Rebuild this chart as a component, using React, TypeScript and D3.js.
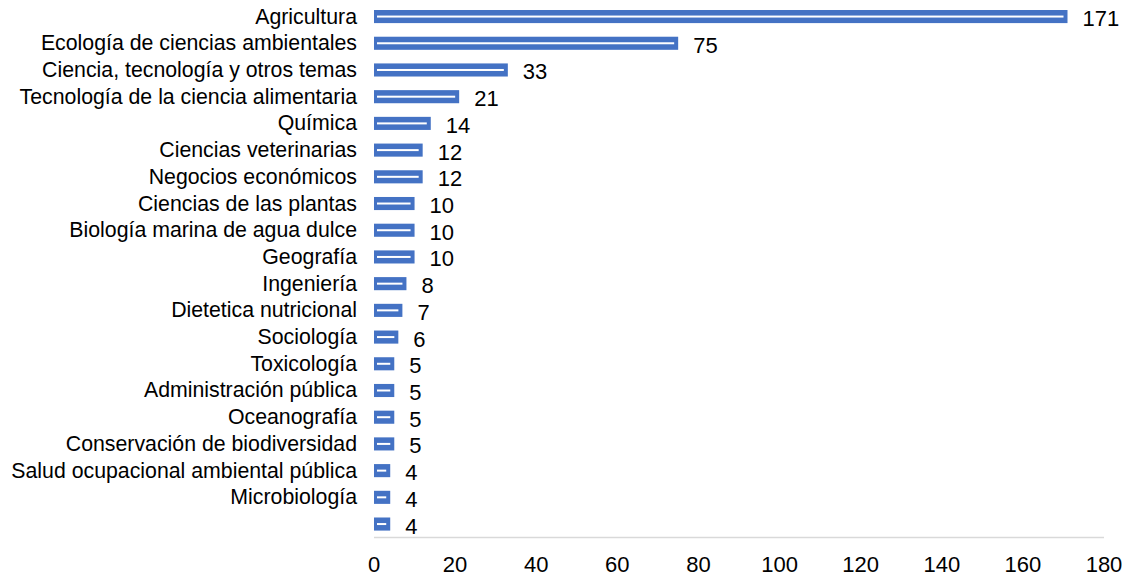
import React, { useEffect, useRef } from 'react';
import * as d3 from 'd3';

const categories = [
  'Agricultura',
  'Ecología de ciencias ambientales',
  'Ciencia, tecnología y otros temas',
  'Tecnología de la ciencia alimentaria',
  'Química',
  'Ciencias veterinarias',
  'Negocios económicos',
  'Ciencias de las plantas',
  'Biología marina de agua dulce',
  'Geografía',
  'Ingeniería',
  'Dietetica nutricional',
  'Sociología',
  'Toxicología',
  'Administración pública',
  'Oceanografía',
  'Conservación de biodiversidad',
  'Salud ocupacional ambiental pública',
  'Microbiología',
  '',
];
const values = [171, 75, 33, 21, 14, 12, 12, 10, 10, 10, 8, 7, 6, 5, 5, 5, 5, 4, 4, 4];
const xTicks = [0, 20, 40, 60, 80, 100, 120, 140, 160, 180];

export default function App() {
  const ref = useRef<SVGSVGElement>(null);

  useEffect(() => {
    const width = 1127;
    const height = 577;
    const svg = d3.select(ref.current);
    svg.selectAll('*').remove();
    svg.attr('width', width).attr('height', height);

    const font = 'Arial, "Liberation Sans", sans-serif';
    const x = d3.scaleLinear().domain([0, 180]).range([374, 1104]);
    const ids = categories.map((_, i) => String(i));
    const y = d3.scaleBand().domain(ids).range([3.2, 537.4]).paddingInner(0.51).paddingOuter(0.255);

    // axis line
    svg.append('line')
      .attr('x1', x(0)).attr('x2', x(180))
      .attr('y1', 537.5).attr('y2', 537.5)
      .attr('stroke', '#d9d9d9').attr('stroke-width', 1.5);

    const rows = svg.selectAll('g.row')
      .data(values)
      .enter()
      .append('g')
      .attr('class', 'row');

    rows.append('rect')
      .attr('x', x(0))
      .attr('y', (d, i) => y(String(i))!)
      .attr('width', d => x(d) - x(0))
      .attr('height', y.bandwidth())
      .attr('fill', '#4472c4');

    // white inner stripe
    rows.append('rect')
      .attr('x', x(0) + 3)
      .attr('y', (d, i) => y(String(i))! + y.bandwidth() / 2 - 1)
      .attr('width', d => Math.max(0, x(d) - x(0) - 7))
      .attr('height', 2)
      .attr('fill', '#ffffff');

    rows.append('text')
      .attr('x', d => x(d) + 15)
      .attr('y', (d, i) => y(String(i))! + y.bandwidth() / 2 + 9.5)
      .text(d => d)
      .style('font-family', font)
      .style('font-size', '22px')
      .attr('fill', '#000');

    svg.selectAll('text.cat')
      .data(categories)
      .enter()
      .append('text')
      .attr('class', 'cat')
      .attr('x', 357)
      .attr('y', (d, i) => y(String(i))! + y.bandwidth() / 2 + 7)
      .attr('text-anchor', 'end')
      .text(d => d)
      .style('font-family', font)
      .style('font-size', '21.3px')
      .attr('fill', '#000');

    svg.selectAll('text.tick')
      .data(xTicks)
      .enter()
      .append('text')
      .attr('class', 'tick')
      .attr('x', d => x(d))
      .attr('y', 572)
      .attr('text-anchor', 'middle')
      .text(d => d)
      .style('font-family', font)
      .style('font-size', '22px')
      .attr('fill', '#000');
  }, []);

  return (
    <div style={{ position: 'absolute', left: 0, top: 0 }}>
      <svg ref={ref}></svg>
    </div>
  );
}
